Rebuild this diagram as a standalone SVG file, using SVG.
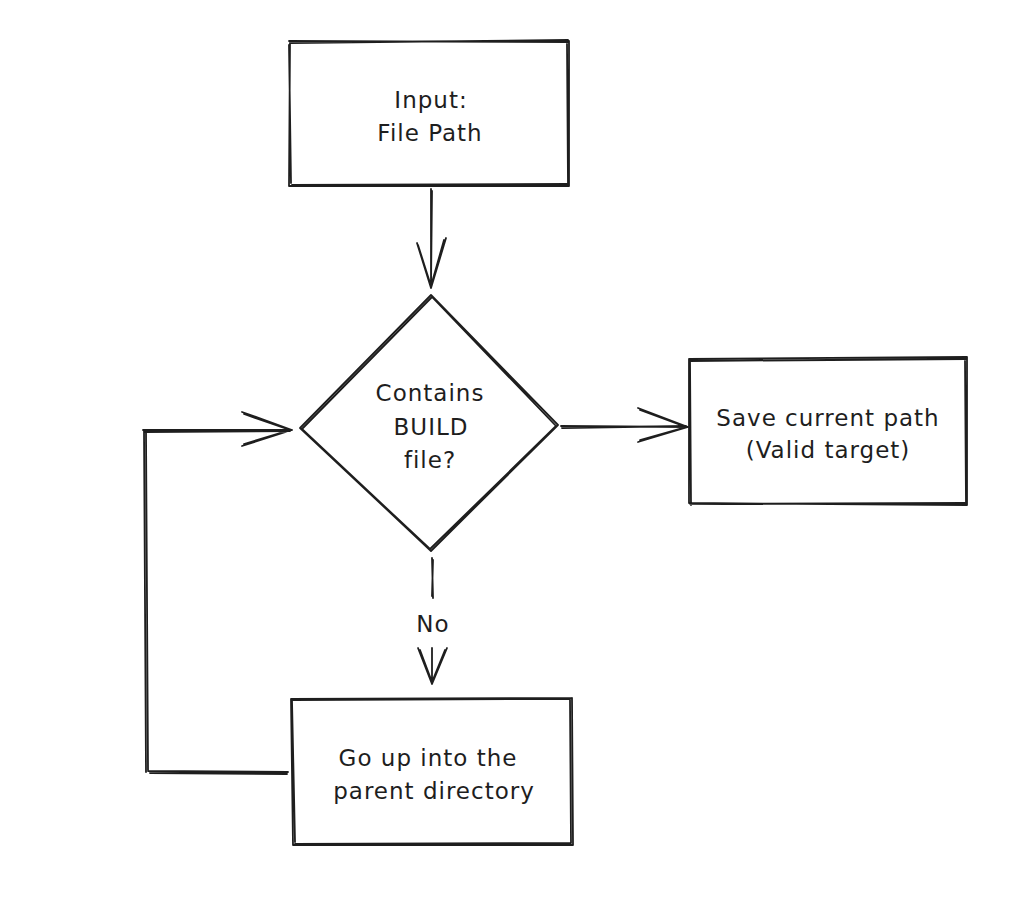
<svg xmlns="http://www.w3.org/2000/svg" width="1024" height="906" viewBox="0 0 1024 906">
<style>
.s{fill:none;stroke:#1e1e1e;stroke-width:1.8;stroke-linecap:round;stroke-linejoin:round}
.t{font-family:"DejaVu Sans","Liberation Sans",sans-serif;font-size:23px;letter-spacing:1px;fill:#1e1e1e;text-anchor:middle}
</style>
<rect width="1024" height="906" fill="#ffffff"/>
<g id="node-input">
<path class="s" d="M289 41 L569 42 M290 43 L568 40 M569 41 L569 186 M567 44 L568 184 M569 186 L289 186 M567 184 L292 185 M289 186 L290 41 M291 183 L289 45"/>
<text class="t" x="431" y="108">Input:</text>
<text class="t" x="430" y="141">File Path</text>
</g>
<g id="node-decision">
<path class="s" d="M431 295 L558 425 L431 551 L300 428 Z M432 297 L556 426 L430 549 L302 429 Z"/>
<text class="t" x="430" y="401">Contains</text>
<text class="t" x="431" y="435">BUILD</text>
<text class="t" x="430" y="468">file?</text>
</g>
<g id="node-save">
<path class="s" d="M689 359 L967 357 M690 361 L966 359 M967 357 L967 505 M965 360 L966 503 M967 505 L689 503 M965 503 L690 504 M689 503 L689 359 M691 505 L690 361"/>
<text class="t" x="828" y="426">Save current path</text>
<text class="t" x="828" y="458">(Valid target)</text>
</g>
<g id="node-parent">
<path class="s" d="M291 699 L572 698 M293 700 L570 699 M572 698 L573 845 M570 700 L571 843 M573 845 L293 845 M571 843 L295 844 M293 845 L291 699 M295 842 L292 701"/>
<text class="t" x="428" y="766">Go up into the</text>
<text class="t" x="434" y="799">parent directory</text>
</g>
<g id="connectors">
<path class="s" d="M431 189 L431 288 M432 191 L431 286 M417 243 L431 288 L446 238 M418 245 L431 286 L444 240"/>
<path class="s" d="M561 426 L688 427 M562 428 L686 426 M638 408 L688 427 L638 442 M640 410 L686 427 L640 440"/>
<path class="s" d="M432 558 L433 598 M433 560 L432 596 M432 648 L432 684 M418 648 L432 684 L447 648 M420 650 L432 682 L445 650"/>
<text class="t" x="433" y="632">No</text>
<path class="s" d="M288 772 L148 771 M287 774 L150 773 M146 772 L144 430 M148 770 L146 432 M143 430 L292 430 M145 432 L290 431 M242 412 L292 430 L242 446 M244 414 L290 430 L244 444"/>
</g>
</svg>
